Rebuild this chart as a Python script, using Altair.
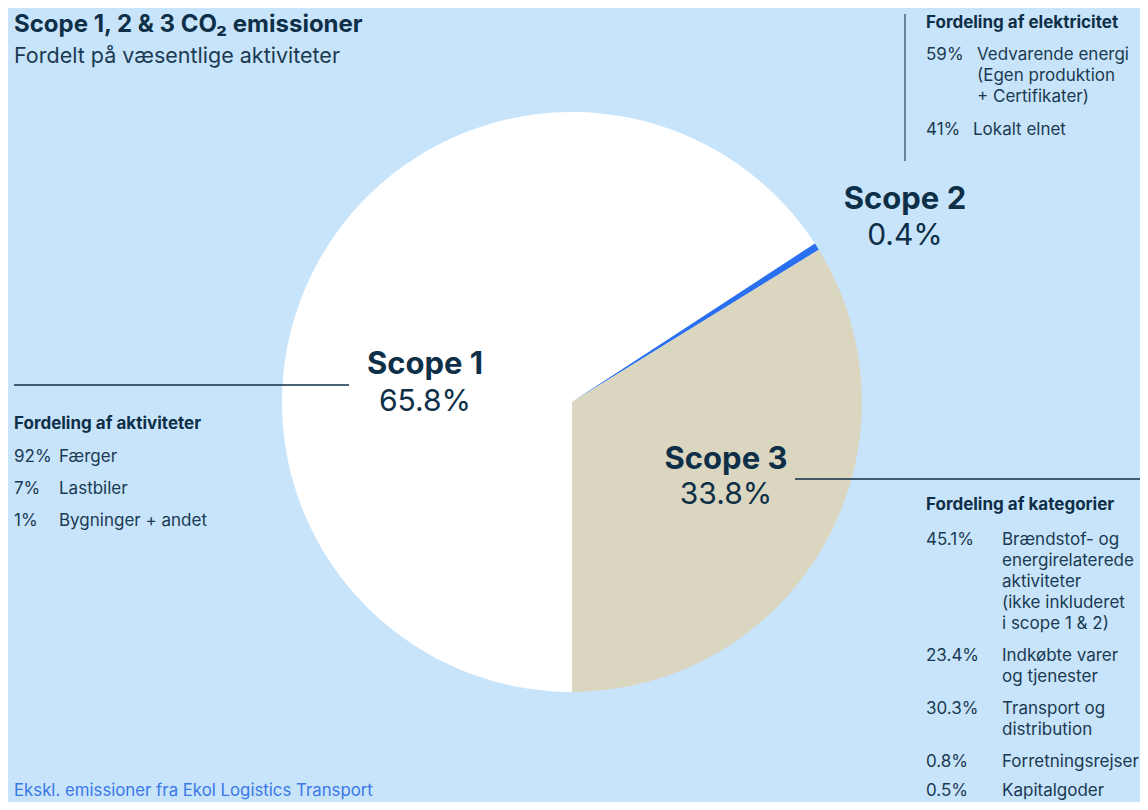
import math
import altair as alt
import pandas as pd

# ---- data ----
scopes = ["Scope 1", "Scope 2", "Scope 3"]
scope_values = [65.8, 0.4, 33.8]
scope_labels = ["65.8%", "0.4%", "33.8%"]

title_text = "Scope 1, 2 & 3 CO\u2082 emissioner"
subtitle_text = "Fordelt på væsentlige aktiviteter"

act_heading = "Fordeling af aktiviteter"
act_pct = ["92%", "7%", "1%"]
act_names = ["Færger", "Lastbiler", "Bygninger + andet"]

el_heading = "Fordeling af elektricitet"
el_pct = ["59%", "41%"]
el_names = ["Vedvarende energi\n(Egen produktion\n+ Certifikater)", "Lokalt elnet"]

cat_heading = "Fordeling af kategorier"
cat_pct = ["45.1%", "23.4%", "30.3%", "0.8%", "0.5%"]
cat_names = [
    "Brændstof- og\nenergirelaterede\naktiviteter\n(ikke inkluderet\ni scope 1 & 2)",
    "Indkøbte varer\nog tjenester",
    "Transport og\ndistribution",
    "Forretningsrejser",
    "Kapitalgoder",
]
footnote = "Ekskl. emissioner fra Ekol Logistics Transport"

# ---- styles ----
BG = "#c8e4fb"
NAVY = "#0d2f47"
TEXT = "#1a3a52"
FONT = "Inter"
OFF = 8  # page margin offset

pie_df = pd.DataFrame({"scope": scopes, "value": scope_values, "idx": [0, 1, 2]})

pie = alt.Chart(pie_df).mark_arc(radius=290).encode(
    theta=alt.Theta("value:Q", stack=True,
                    scale=alt.Scale(range=[math.pi, 3 * math.pi])),
    color=alt.Color("scope:N",
                    scale=alt.Scale(domain=scopes, range=["#ffffff", "#2a6ff0", "#dbd6c0"]),
                    legend=None),
    order=alt.Order("idx:Q"),
    x=alt.value(572 - OFF),
    y=alt.value(402 - OFF),
)


def txt(s, x, y, size=17, weight="normal", color=TEXT, align="left", lh=21):
    return alt.Chart(pd.DataFrame({"t": [s]})).mark_text(
        font=FONT, fontSize=size, fontWeight=weight, color=color, align=align,
        baseline="middle", lineBreak="\n", lineHeight=lh,
    ).encode(text="t:N", x=alt.value(x - OFF), y=alt.value(y - OFF))


def hline(x1, x2, y, color=NAVY, w=1.3):
    return alt.Chart(pd.DataFrame({"a": [0]})).mark_rule(color=color, strokeWidth=w).encode(
        x=alt.value(x1 - OFF), x2=alt.value(x2 - OFF), y=alt.value(y - OFF))


def vline(x, y1, y2, color="#3a4d5e", w=1.3):
    return alt.Chart(pd.DataFrame({"a": [0]})).mark_rule(color=color, strokeWidth=w).encode(
        x=alt.value(x - OFF), y=alt.value(y1 - OFF), y2=alt.value(y2 - OFF))


layers = [pie]

# titles
layers.append(txt(title_text, 14, 25, size=24, weight="bold", color=NAVY))
layers.append(txt(subtitle_text, 14, 57, size=21.5, color=TEXT))

# scope labels
scope_pos = [(425, 365, 402), (905, 200, 236), (726, 460, 495)]
for name, lab, (cx, y1, y2) in zip(scopes, scope_labels, scope_pos):
    layers.append(txt(name, cx, y1, size=31, weight="bold", color=NAVY, align="center"))
    layers.append(txt(lab, cx, y2, size=30, color=NAVY, align="center"))

# connector lines
layers.append(hline(14, 349, 385))
layers.append(hline(795, 1148, 479))
layers.append(vline(905, 14, 161))

# activities (left)
layers.append(txt(act_heading, 14, 424, size=17, weight="bold", color=NAVY))
for i, (p, n) in enumerate(zip(act_pct, act_names)):
    y = 457 + 32 * i
    layers.append(txt(p, 14, y))
    layers.append(txt(n, 59, y))

# electricity (top right)
layers.append(txt(el_heading, 926, 23, size=17, weight="bold", color=NAVY))
el_y = [55, 130]
el_x = [977, 973]
for p, n, y, x in zip(el_pct, el_names, el_y, el_x):
    layers.append(txt(p, 926, y))
    layers.append(txt(n, x, y))

# categories (bottom right)
layers.append(txt(cat_heading, 926, 505, size=17, weight="bold", color=NAVY))
cat_y = [540, 656, 709, 762, 791]
for p, n, y in zip(cat_pct, cat_names, cat_y):
    layers.append(txt(p, 926, y))
    layers.append(txt(n, 1002, y))

# footnote
layers.append(txt(footnote, 14, 791, size=16.8, color="#3a78e6"))

chart = alt.layer(*layers).properties(
    width=1132, height=794,
    autosize=alt.AutoSizeParams(type="fit", contains="padding"),
    padding=0,
    background=BG,
).configure_view(stroke=None)

chart.save("out.html", embed_options={"renderer": "svg", "actions": False})
